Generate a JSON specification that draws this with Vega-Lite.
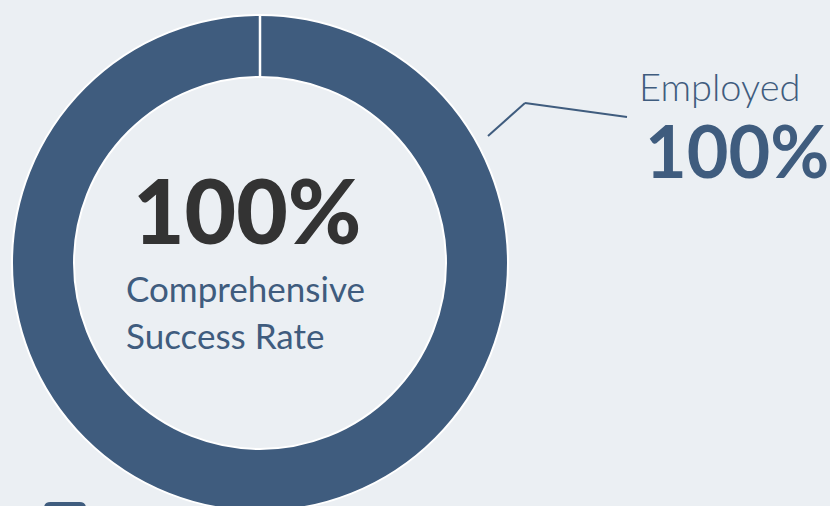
{
  "$schema": "https://vega.github.io/schema/vega-lite/v6.json",
  "width": 830,
  "height": 506,
  "autosize": {"type": "none"},
  "padding": 0,
  "background": "#ebeff3",
  "config": {"view": {"stroke": null}, "font": "Lato"},
  "datasets": {
    "status": [{"category": "Employed", "percent": 100}],
    "center": [{"value": "100%", "label1": "Comprehensive", "label2": "Success Rate"}]
  },
  "layer": [
    {
      "data": {"name": "status"},
      "mark": {"type": "arc", "innerRadius": 186, "outerRadius": 248, "stroke": "#ffffff", "strokeWidth": 2},
      "encoding": {
        "theta": {"field": "percent", "type": "quantitative", "stack": true},
        "color": {
          "field": "category", "type": "nominal",
          "scale": {"range": ["#3f5c7e"]},
          "legend": {"orient": "none", "legendX": 44, "legendY": 502, "title": null, "symbolType": "M-1,-0.7 Q-1,-1 -0.7,-1 L0.7,-1 Q1,-1 1,-0.7 L1,0.7 Q1,1 0.7,1 L-0.7,1 Q-1,1 -1,0.7 Z", "symbolSize": 1764, "symbolStrokeWidth": 0, "labelExpr": "''"}
        },
        "x": {"value": 260},
        "y": {"value": 263}
      }
    },
    {
      "data": {"name": "status"},
      "mark": {"type": "rule", "color": "#ffffff", "strokeWidth": 2.5},
      "encoding": {"x": {"value": 260}, "y": {"value": 14}, "x2": {"value": 260}, "y2": {"value": 78}}
    },
    {
      "data": {"name": "center"},
      "mark": {"type": "text", "align": "left", "baseline": "alphabetic", "fontSize": 89, "fontWeight": 900, "color": "#333333"},
      "encoding": {"text": {"field": "value"}, "x": {"value": 133}, "y": {"value": 244}}
    },
    {
      "data": {"name": "center"},
      "mark": {"type": "text", "align": "left", "baseline": "alphabetic", "fontSize": 35, "fontWeight": 400, "color": "#3f5c7e"},
      "encoding": {"text": {"field": "label1"}, "x": {"value": 126}, "y": {"value": 302}}
    },
    {
      "data": {"name": "center"},
      "mark": {"type": "text", "align": "left", "baseline": "alphabetic", "fontSize": 35, "fontWeight": 400, "color": "#3f5c7e"},
      "encoding": {"text": {"field": "label2"}, "x": {"value": 126}, "y": {"value": 349}}
    },
    {
      "data": {"name": "status"},
      "mark": {"type": "rule", "color": "#3f5c7e", "strokeWidth": 2},
      "encoding": {"x": {"value": 488}, "y": {"value": 136}, "x2": {"value": 525}, "y2": {"value": 103}}
    },
    {
      "data": {"name": "status"},
      "mark": {"type": "rule", "color": "#3f5c7e", "strokeWidth": 2},
      "encoding": {"x": {"value": 525}, "y": {"value": 103}, "x2": {"value": 627}, "y2": {"value": 117}}
    },
    {
      "data": {"name": "status"},
      "mark": {"type": "text", "align": "left", "baseline": "alphabetic", "fontSize": 38, "fontWeight": 300, "color": "#3f5c7e"},
      "encoding": {"text": {"field": "category"}, "x": {"value": 639}, "y": {"value": 101}}
    },
    {
      "data": {"name": "center"},
      "mark": {"type": "text", "align": "left", "baseline": "alphabetic", "fontSize": 72, "fontWeight": 700, "color": "#3f5c7e"},
      "encoding": {"text": {"field": "value"}, "x": {"value": 645}, "y": {"value": 178}}
    }
  ]
}
